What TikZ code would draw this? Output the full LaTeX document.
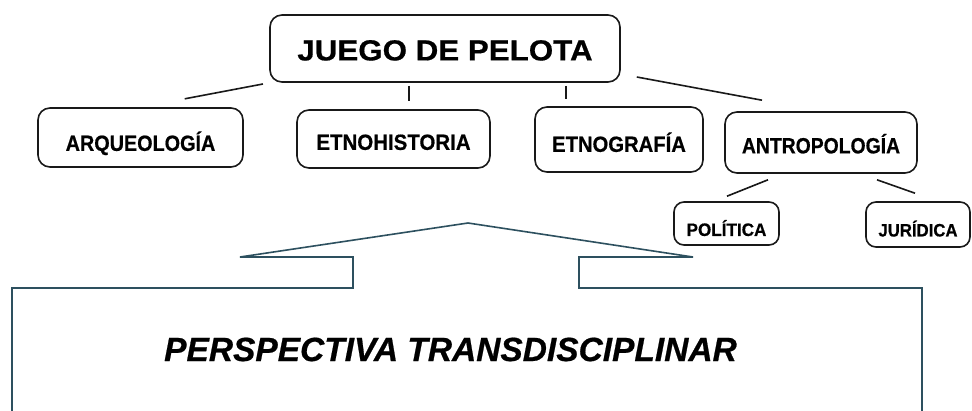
\documentclass[tikz,border=0pt]{standalone}
\usepackage{fontspec}
\setmainfont{Liberation Sans}[BoldFeatures={FakeBold=0.6},BoldItalicFeatures={FakeBold=0.6}]
\usetikzlibrary{calc}
\definecolor{boxline}{RGB}{25,25,25}
\definecolor{frameline}{RGB}{45,80,95}
\tikzset{
  rbox/.style={draw=boxline, line width=1.6pt, rounded corners=12pt, inner sep=0pt, text depth=0pt, align=center},
  link/.style={draw=boxline, line width=1.6pt},
  frame/.style={draw=frameline, line width=1.6pt, line join=miter},
  midfont/.style={font=\fontsize{22}{22}\selectfont\bfseries},
  smallfont/.style={font=\fontsize{18}{18}\selectfont\bfseries},
}
\newcommand{\nw}[2]{\scalebox{#1}[1]{#2}}
\begin{document}
\begin{tikzpicture}[x=1pt,y=-1pt]
\useasboundingbox[fill=white] (0,0) rectangle (972,410);

\node[rbox, minimum width=350pt, minimum height=67pt, text height=23.8pt,
      font=\fontsize{29}{29}\selectfont\bfseries] (juego) at (445,48.5) {\nw{1.08}{JUEGO DE PELOTA}};

\node[rbox, midfont, minimum width=205pt, minimum height=59pt, text height=26.7pt] (arq) at (140.5,137.5) {\nw{0.9}{ARQUEOLOGÍA}};
\node[rbox, midfont, minimum width=193pt, minimum height=58pt, text height=21.7pt] (etnoh) at (393.5,139) {\nw{0.93}{ETNOHISTORIA}};
\node[rbox, midfont, minimum width=168pt, minimum height=65pt, text height=24.7pt] (etnog) at (619,139.5) {\nw{0.92}{ETNOGRAFÍA}};
\node[rbox, midfont, minimum width=192pt, minimum height=61pt, text height=21.7pt] (antro) at (821,142.5) {\nw{0.88}{ANTROPOLOGÍA}};
\node[rbox, smallfont, rounded corners=10pt, minimum width=105pt, minimum height=43pt, text height=24.9pt] (pol) at (726.5,223.5) {\nw{0.95}{POLÍTICA}};
\node[rbox, smallfont, rounded corners=10pt, minimum width=104pt, minimum height=45pt, text height=23.9pt] (jur) at (918,224.5) {\nw{0.93}{JURÍDICA}};

\draw[link, shorten <=6.4pt, shorten >=45pt] (juego.south west) -- (arq.north);
\draw[link] ($(juego.south)+(-36,3)$) -- ($(etnoh.north)+(15.5,-8)$);
\draw[link] ($(juego.south)+(121,3)$) -- ($(etnog.north)+(-53,-7)$);
\draw[link] ($(juego.east)+(16,28.5)$) -- ($(antro.north)+(-59,-11)$);
\draw[link] ($(antro.south)+(-53,6)$) -- ($(pol.north)+(0.5,-5)$);
\draw[link] ($(antro.south)+(56,6)$) -- ($(jur.north)+(-3,-8)$);

\draw[frame] (12,415) -- (12,288) -- (353,288) -- (353,257) -- (240,257) -- (468,223)
  -- (693,257) -- (579,257) -- (579,288) -- (922,288) -- (922,415);

\node[inner sep=0pt, text height=24pt, text depth=0pt,
      font=\fontsize{33.5}{33.5}\selectfont\bfseries\itshape] (persp) at (450.5,349) {PERSPECTIVA TRANSDISCIPLINAR};
\end{tikzpicture}
\end{document}
